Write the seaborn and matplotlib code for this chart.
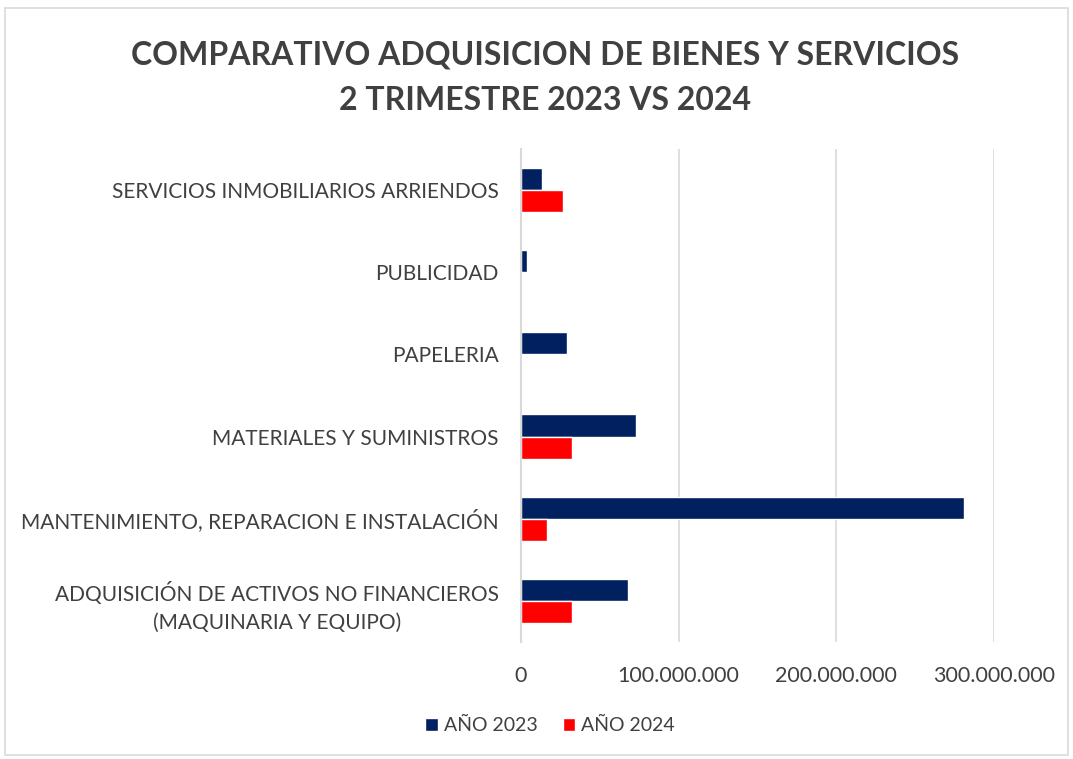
import pandas as pd
import matplotlib.pyplot as plt
import seaborn as sns
from matplotlib.ticker import FuncFormatter, MultipleLocator
from matplotlib.patches import Rectangle

# datos
categorias = ['SERVICIOS INMOBILIARIOS ARRIENDOS',
              'PUBLICIDAD',
              'PAPELERIA',
              'MATERIALES Y SUMINISTROS',
              'MANTENIMIENTO, REPARACION E INSTALACIÓN',
              'ADQUISICIÓN DE ACTIVOS NO FINANCIEROS\n(MAQUINARIA Y EQUIPO)']
valores_2023 = [13300000, 3500000, 28900000, 72900000, 280700000, 67600000]
valores_2024 = [26400000, 500000, 0, 32100000, 16700000, 32100000]
series = ['AÑO 2023', 'AÑO 2024']
colores = ['#002060', '#FF0000']

df = pd.DataFrame({'Categoria': categorias * 2,
                   'Valor': valores_2023 + valores_2024,
                   'Serie': [series[0]] * 6 + [series[1]] * 6})

sns.set_style('white')
plt.rcParams['font.family'] = ['Lato', 'DejaVu Sans']
texto = '#404040'

fig = plt.figure(figsize=(10.73, 7.59), dpi=100)
ax = fig.add_axes([0.4856, 0.154, 0.4408, 0.650])

sns.barplot(data=df, x='Valor', y='Categoria', hue='Serie', order=categorias,
            hue_order=series, palette=colores, orient='h', width=0.54,
            saturation=1, ax=ax, legend=True)

ax.set_xlim(0, 300000000)
ax.xaxis.set_major_locator(MultipleLocator(100000000))
ax.xaxis.set_major_formatter(FuncFormatter(lambda v, p: f'{int(v):,}'.replace(',', '.')))
ax.grid(axis='x', color='#D9D9D9', linewidth=1.2)
ax.set_axisbelow(True)
for s in ['top', 'right', 'bottom']:
    ax.spines[s].set_visible(False)
ax.spines['left'].set_color('#D9D9D9')
ax.spines['left'].set_linewidth(1.5)
ax.tick_params(axis='x', length=7, color='#D9D9D9', colors=texto, labelsize=15.5, pad=10)
ax.tick_params(axis='y', length=0, colors=texto, labelsize=15, pad=16)
for lbl in ax.get_yticklabels():
    lbl.set_multialignment('center')
    lbl.set_linespacing(1.55)
ax.set_xlabel('')
ax.set_ylabel('')

ax.legend(loc='upper center', bbox_to_anchor=(0.5126, 0.078), bbox_transform=fig.transFigure,
          ncol=2, frameon=False, fontsize=14, labelcolor=texto, handlelength=0.65,
          handleheight=0.65, handletextpad=0.3, columnspacing=1.3)

fig.text(0.508, 0.9144, 'COMPARATIVO ADQUISICION DE BIENES Y SERVICIOS',
         ha='center', va='baseline', fontsize=23, fontweight='bold', color=texto)
fig.text(0.508, 0.855, '2 TRIMESTRE 2023 VS 2024',
         ha='center', va='baseline', fontsize=23, fontweight='bold', color=texto)

# borde del grafico
fig.patches.append(Rectangle((0.005, 0.005), 0.99, 0.985, transform=fig.transFigure,
                             fill=False, edgecolor='#D9D9D9', linewidth=1.2))

plt.savefig('out.png', dpi=100)
